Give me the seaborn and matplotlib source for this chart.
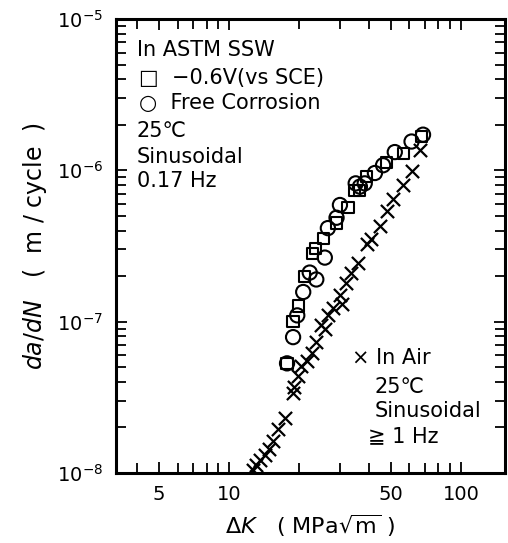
import numpy as np
import pandas as pd
import seaborn as sns
import matplotlib
matplotlib.use("Agg")
import matplotlib.pyplot as plt
from matplotlib.ticker import FixedLocator, NullFormatter, LogLocator, LogFormatterMathtext

# --- data (delta K in MPa*sqrt(m), da/dN in m/cycle) ---
sq_dk = [17.8, 18.9, 20.0, 21.2, 23.0, 23.6, 25.5, 29.1, 32.6, 34.9, 36.7, 39.2, 47.8, 56.4, 67.6]
sq_rate = [5.3e-8, 1.0e-7, 1.27e-7, 1.99e-7, 2.83e-7, 3.03e-7, 3.54e-7, 4.49e-7, 5.69e-7,
           7.4e-7, 7.4e-7, 9.1e-7, 1.13e-6, 1.29e-6, 1.67e-6]

circ_dk = [17.8, 18.9, 19.7, 20.9, 22.3, 23.8, 25.9, 26.7, 29.1, 30.1, 35.2, 36.7, 38.5,
           42.6, 46.2, 51.9, 61.3, 68.7]
circ_rate = [5.3e-8, 7.9e-8, 1.10e-7, 1.57e-7, 2.11e-7, 1.90e-7, 2.65e-7, 4.15e-7, 4.86e-7,
             5.9e-7, 8.2e-7, 7.8e-7, 8.2e-7, 9.6e-7, 1.08e-6, 1.32e-6, 1.55e-6, 1.72e-6]

air_dk = [12.7, 13.1, 13.6, 14.3, 14.9, 15.5, 16.3, 17.4, 18.8, 19.0, 19.9, 20.5, 21.6, 22.7,
          23.8, 25.0, 25.9, 26.7, 28.1, 30.1, 30.6, 32.1, 33.7, 36.1, 39.2, 41.1, 44.7, 47.8,
          51.0, 56.4, 61.3, 66.5]
air_rate = [1.04e-8, 1.13e-8, 1.22e-8, 1.32e-8, 1.43e-8, 1.63e-8, 1.96e-8, 2.30e-8, 3.4e-8,
            3.7e-8, 4.4e-8, 5.1e-8, 5.5e-8, 6.2e-8, 7.3e-8, 9.5e-8, 9.0e-8, 1.11e-7, 1.24e-7,
            1.49e-7, 1.30e-7, 1.79e-7, 2.09e-7, 2.45e-7, 3.27e-7, 3.54e-7, 4.26e-7, 5.40e-7,
            6.49e-7, 8.0e-7, 9.9e-7, 1.36e-6]

x_major = [5, 10, 50, 100]
x_major_labels = ["5", "10", "50", "100"]
x_minor = [4, 6, 7, 8, 9, 20, 30, 40, 60, 70, 80, 90]

sq_df = pd.DataFrame({"dK": sq_dk, "rate": sq_rate})
circ_df = pd.DataFrame({"dK": circ_dk, "rate": circ_rate})
air_df = pd.DataFrame({"dK": air_dk, "rate": air_rate})

# --- style ---
sns.set_theme(style="ticks")
plt.rcParams["font.family"] = ["DejaVu Sans", "Noto Sans CJK JP"]
plt.rcParams["mathtext.fontset"] = "dejavusans"
for k in ["text.color", "axes.labelcolor", "xtick.color", "ytick.color", "axes.edgecolor"]:
    plt.rcParams[k] = "black"

fig = plt.figure(figsize=(5.08, 5.43), dpi=100)
ax = fig.add_axes([0.228, 0.129, 0.766, 0.836])

sns.scatterplot(data=air_df, x="dK", y="rate", marker="x", color="black", s=90,
                linewidth=1.6, ax=ax)
sns.scatterplot(data=sq_df, x="dK", y="rate", marker="s", facecolor="none",
                edgecolor="black", color="black", s=65, linewidth=1.5, ax=ax)
sns.scatterplot(data=circ_df, x="dK", y="rate", marker="o", facecolor="none",
                edgecolor="black", color="black", s=105, linewidth=1.5, ax=ax)

ax.set_xscale("log")
ax.set_yscale("log")
ax.set_xlim(3.25, 155)
ax.set_ylim(1e-8, 1e-5)

ax.xaxis.set_major_locator(FixedLocator(x_major))
ax.set_xticklabels(x_major_labels)
ax.xaxis.set_minor_locator(FixedLocator(x_minor))
ax.xaxis.set_minor_formatter(NullFormatter())
ax.yaxis.set_major_locator(LogLocator(base=10, numticks=10))
ax.yaxis.set_major_formatter(LogFormatterMathtext())
ax.yaxis.set_minor_locator(LogLocator(base=10, subs=np.arange(2, 10), numticks=10))
ax.yaxis.set_minor_formatter(NullFormatter())

ax.tick_params(which="both", direction="in", top=True, right=True, width=1.3,
               colors="black", labelsize=14)
ax.tick_params(which="major", length=8, pad=9)
ax.tick_params(which="minor", length=7)
for sp in ax.spines.values():
    sp.set_linewidth(2.2)
    sp.set_color("black")

ax.set_xlabel(r"$\mathit{\Delta K}$   ( MPa$\sqrt{\mathrm{m}}$ )", fontsize=16, labelpad=6)
ax.set_ylabel(r"$\mathit{da/dN}$   (  m / cycle  )", fontsize=17, labelpad=6)

# --- annotations ---
left_txt = [("In ASTM SSW", 0.054, 0.932), ("\u25a1  \u22120.6V(vs SCE)", 0.060, 0.870),
            ("\u25cb  Free Corrosion", 0.060, 0.815), ("25\u2103", 0.054, 0.753),
            ("Sinusoidal", 0.054, 0.696), ("0.17 Hz", 0.054, 0.643)]
for t, x, y in left_txt:
    ax.text(x, y, t, transform=ax.transAxes, fontsize=15, va="center", ha="left")

right_txt = [("\u00d7 In Air", 0.607, 0.253), ("25\u2103", 0.666, 0.189),
             ("Sinusoidal", 0.666, 0.137), ("\u2267 1 Hz", 0.648, 0.081)]
for t, x, y in right_txt:
    ax.text(x, y, t, transform=ax.transAxes, fontsize=15, va="center", ha="left")

fig.savefig("out.png", dpi=100)
